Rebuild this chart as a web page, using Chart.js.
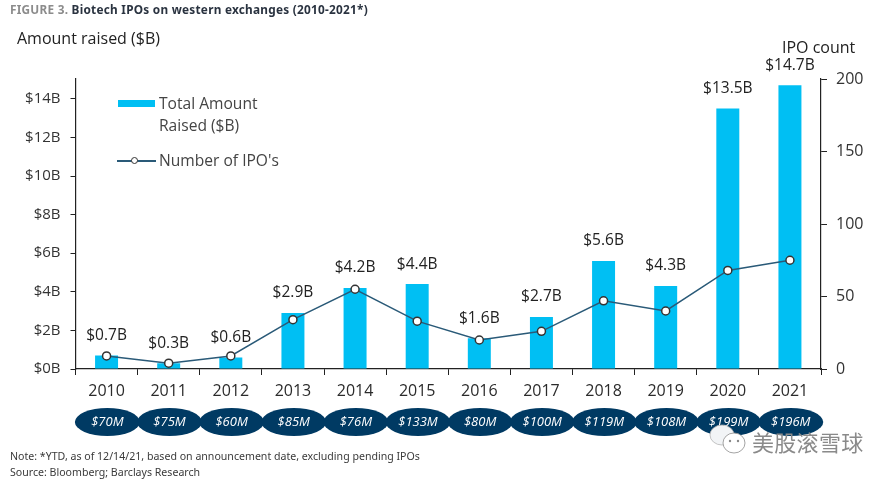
<!DOCTYPE html>
<html>
<head>
<meta charset="utf-8">
<title>Biotech IPOs on western exchanges</title>
<script src="https://cdn.jsdelivr.net/npm/chart.js@4"></script>
<style>
    html, body { margin: 0; padding: 0; background: #fff; }
    #wrap { position: relative; width: 890px; height: 481px; overflow: hidden; font-family: "Open Sans", sans-serif; }
    #chart { position: absolute; left: 0; top: 0; }
    .txt { position: absolute; white-space: nowrap; line-height: 1; }
    #figTitle { left: 10px; top: 1px; font: bold 11.8px "Noto Sans", sans-serif; color: #2a3340; letter-spacing: 0.25px; }
    #figTitle span { color: #8c8c8c; }
    #leftTitle { left: 17px; top: 30px; font-size: 16px; color: #222; }
    #rightTitle { left: 782px; top: 39px; font-size: 16px; color: #222; }
    .legendText { font-size: 15.6px; color: #444; }
    #swatch { position: absolute; left: 118px; top: 100px; width: 37px; height: 7px; background: #00bff3; }
    #legendLine { position: absolute; left: 117px; top: 160px; width: 39px; height: 1.5px; background: #2a5a78; }
    #legendDot { position: absolute; left: 131px; top: 157px; width: 5px; height: 5px; border: 1.2px solid #333; border-radius: 50%; background: #fff; }
    .note { left: 10px; font: 10.6px "Noto Sans", sans-serif; color: #3a3a3a; }
    #watermark { left: 752px; top: 425px; font: 22px "Noto Sans CJK SC", sans-serif; color: #8a8a8a; letter-spacing: 0.3px; }
    #wechat { position: absolute; left: 709px; top: 424px; }
</style>
</head>
<body>
<div id="wrap">
    <canvas id="chart" width="890" height="481"></canvas>
    <div class="txt" id="figTitle"><span>FIGURE 3.</span> Biotech IPOs on western exchanges (2010-2021*)</div>
    <div class="txt" id="leftTitle">Amount raised ($B)</div>
    <div class="txt" id="rightTitle">IPO count</div>
    <div id="swatch"></div>
    <div class="txt legendText" style="left:159px;top:96px">Total Amount</div>
    <div class="txt legendText" style="left:159px;top:118px">Raised ($B)</div>
    <div id="legendLine"></div>
    <div id="legendDot"></div>
    <div class="txt legendText" style="left:159px;top:153px">Number of IPO's</div>
    <div class="txt note" style="top:449px">Note: *YTD, as of 12/14/21, based on announcement date, excluding pending IPOs</div>
    <div class="txt note" style="top:465px">Source: Bloomberg; Barclays Research</div>
    <svg id="wechat" width="38" height="32" viewBox="0 0 38 32">
        <ellipse cx="13" cy="11" rx="12" ry="10" fill="#f2f4f6" stroke="#b5b5b5" stroke-width="0.8"/>
        <ellipse cx="25" cy="19" rx="11" ry="10" fill="#fff" stroke="#9a9a9a" stroke-width="0.9"/>
        <circle cx="21" cy="17" r="1.2" fill="#888"/>
        <circle cx="29" cy="17" r="1.2" fill="#888"/>
    </svg>
    <div class="txt" id="watermark">美股滚雪球</div>
</div>
<script>
const years = ['2010', '2011', '2012', '2013', '2014', '2015', '2016', '2017', '2018', '2019', '2020', '2021'];
const amountRaised = [0.7, 0.3, 0.6, 2.9, 4.2, 4.4, 1.6, 2.7, 5.6, 4.3, 13.5, 14.7];
const ipoCount = [9, 4, 9, 34, 55, 33, 20, 26, 47, 40, 68, 75];
const avgSize = ['$70M', '$75M', '$60M', '$85M', '$76M', '$133M', '$80M', '$100M', '$119M', '$108M', '$199M', '$196M'];
const amountTicks = [0, 2, 4, 6, 8, 10, 12, 14];
const countTicks = [0, 50, 100, 150, 200];

const BAR_BLUE = '#00bff3';
const NAVY = '#003a63';
const LINE_BLUE = '#2a5a78';
const AXIS_DARK = '#222';
const FONT = '"Open Sans", sans-serif';

// labels above the bars and the dark ovals under the years
const extras = {
    id: 'extras',
    afterDatasetsDraw(chart) {
        const ctx = chart.ctx;
        const x = chart.scales.x;
        const y = chart.scales.y;
        ctx.save();
        ctx.textAlign = 'center';
        ctx.textBaseline = 'middle';
        amountRaised.forEach((v, i) => {
            ctx.font = '15.5px ' + FONT;
            ctx.fillStyle = '#222';
            ctx.fillText('$' + v.toFixed(1) + 'B', x.getPixelForValue(i), y.getPixelForValue(v) - 20);
        });
        avgSize.forEach((label, i) => {
            const cx = x.getPixelForValue(i) + 0.8;
            ctx.beginPath();
            ctx.ellipse(cx, 422, 32.5, 14, 0, 0, Math.PI * 2);
            ctx.fillStyle = NAVY;
            ctx.fill();
        });
        avgSize.forEach((label, i) => {
            ctx.font = 'italic 13px ' + FONT;
            ctx.fillStyle = '#fff';
            ctx.fillText(label, x.getPixelForValue(i) + 0.8, 422);
        });
        ctx.restore();
    }
};

new Chart(document.getElementById('chart').getContext('2d'), {
    type: 'bar',
    data: {
        labels: years,
        datasets: [
            {
                type: 'line',
                data: ipoCount,
                yAxisID: 'y2',
                order: 0,
                borderColor: LINE_BLUE,
                borderWidth: 1.5,
                tension: 0,
                pointRadius: 4,
                pointBorderWidth: 1.5,
                pointBorderColor: '#333',
                pointBackgroundColor: '#fff'
            },
            {
                data: amountRaised,
                yAxisID: 'y',
                order: 1,
                backgroundColor: BAR_BLUE,
                categoryPercentage: 1,
                barPercentage: 0.37
            }
        ]
    },
    options: {
        responsive: false,
        animation: false,
        layout: { padding: { top: 79, left: 0, right: 0, bottom: 0 } },
        plugins: { legend: { display: false }, tooltip: { enabled: false } },
        scales: {
            x: {
                afterFit: s => { s.height = 112; },
                grid: { offset: true, drawOnChartArea: false, color: AXIS_DARK, tickLength: 6 },
                border: { color: AXIS_DARK, width: 1.2 },
                ticks: { color: '#2b2b2b', font: { family: FONT, size: 16 }, padding: 7, maxRotation: 0 }
            },
            y: {
                position: 'left',
                min: 0,
                max: 15.03,
                afterFit: s => { s.width = 75.5; },
                afterBuildTicks: s => { s.ticks = amountTicks.map(v => ({ value: v })); },
                grid: { drawOnChartArea: false, color: AXIS_DARK, tickLength: 5 },
                border: { color: AXIS_DARK, width: 1.2 },
                ticks: { color: '#333', font: { family: FONT, size: 15 }, padding: 10, callback: v => '$' + v + 'B' }
            },
            y2: {
                position: 'right',
                min: 0,
                max: 200,
                afterFit: s => { s.width = 69; },
                afterBuildTicks: s => { s.ticks = countTicks.map(v => ({ value: v })); },
                grid: { drawOnChartArea: false, color: AXIS_DARK, tickLength: 6 },
                border: { color: AXIS_DARK, width: 1.2 },
                ticks: { color: '#333', font: { family: FONT, size: 16 }, padding: 9 }
            }
        }
    },
    plugins: [extras]
});
</script>
</body>
</html>
